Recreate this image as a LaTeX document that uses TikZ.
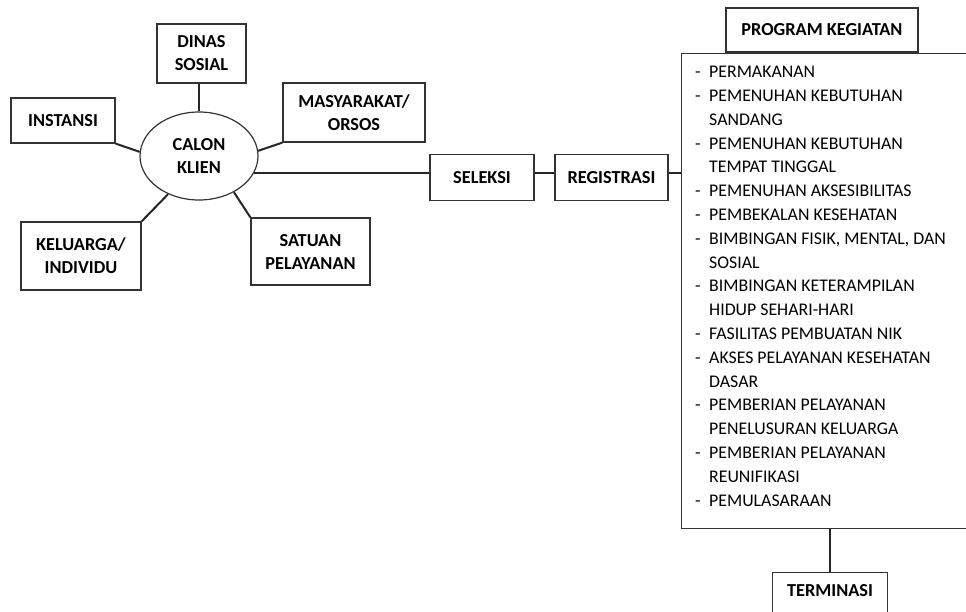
\documentclass[tikz,border=0pt]{standalone}
\usepackage{fontspec}
\setmainfont{Carlito}
\usepackage{tikz}
\usetikzlibrary{shapes.geometric}
\tikzset{
  kotak/.style={
    draw=black!80, line width=1.2pt, rectangle, align=center,
    inner sep=0pt, font=\fontsize{18.3}{23}\selectfont\bfseries}}
\tikzset{
  hub/.style={
    draw=black!80, line width=1.2pt, ellipse, align=center,
    inner sep=0pt, font=\fontsize{18.3}{23}\selectfont\bfseries}}
\tikzset{garis/.style={draw=black!85, line width=2pt}}
\newcommand{\butir}[1]{\makebox[14pt][l]{-}#1}
\newcommand{\lanjut}[1]{\hspace*{14pt}#1}

\begin{document}
\begin{tikzpicture}[x=1pt,y=-1pt]
    \clip (0,0) rectangle (966,612);
    % sumber calon klien
    \node[hub,minimum width=118pt,minimum height=88pt] (klien) at (199,156) {CALON\\KLIEN};
    \node[kotak,minimum width=89pt,minimum height=59pt] (dinas) at (201.5,53.5) {DINAS\\SOSIAL};
    \node[kotak,minimum width=104pt,minimum height=45pt] (instansi) at (63,120.5) {INSTANSI};
    \node[kotak,minimum width=142pt,minimum height=59pt] (masyarakat) at (354,112.5) {MASYARAKAT/\\ORSOS};
    \node[kotak,minimum width=120pt,minimum height=68pt] (keluarga) at (81,256) {KELUARGA/\\INDIVIDU};
    \node[kotak,minimum width=119pt,minimum height=67pt] (satuan) at (310.5,251.5) {SATUAN\\PELAYANAN};
    \draw[garis] (klien.north) -- (klien.north |- dinas.south);
    \draw[garis] (klien.176) -- (instansi.south east);
    \draw[garis] (klien.5) -- (masyarakat.south west);
    \draw[garis] (klien.231.5) -- (keluarga.north east);
    \draw[garis] (klien.-46.5) -- (satuan.north west);
    % alur
    \node[kotak,minimum width=104pt,minimum height=46pt] (seleksi) at (482,177.5) {SELEKSI};
    \node[kotak,minimum width=113pt,minimum height=46pt] (registrasi) at (611.5,177.5) {REGISTRASI};
    \node[kotak,anchor=north west,minimum width=330pt,minimum height=475pt] (kegiatan) at (681,53) {};
    \node[kotak,minimum width=192pt,minimum height=44pt] (program) at (822,30) {PROGRAM KEGIATAN};
    \node[anchor=north west,align=left,inner sep=0pt,font=\fontsize{17.8}{23.8}\selectfont] (daftar) at (695,66) {%
      \butir{PERMAKANAN}\\
      \butir{PEMENUHAN KEBUTUHAN}\\
      \lanjut{SANDANG}\\
      \butir{PEMENUHAN KEBUTUHAN}\\
      \lanjut{TEMPAT TINGGAL}\\
      \butir{PEMENUHAN AKSESIBILITAS}\\
      \butir{PEMBEKALAN KESEHATAN}\\
      \butir{BIMBINGAN FISIK, MENTAL, DAN}\\
      \lanjut{SOSIAL}\\
      \butir{BIMBINGAN KETERAMPILAN}\\
      \lanjut{HIDUP SEHARI-HARI}\\
      \butir{FASILITAS PEMBUATAN NIK}\\
      \butir{AKSES PELAYANAN KESEHATAN}\\
      \lanjut{DASAR}\\
      \butir{PEMBERIAN PELAYANAN}\\
      \lanjut{PENELUSURAN KELUARGA}\\
      \butir{PEMBERIAN PELAYANAN}\\
      \lanjut{REUNIFIKASI}\\
      \butir{PEMULASARAAN}};
    \node[kotak,anchor=north,minimum width=115pt,text depth=22pt,inner ysep=12pt] (terminasi) at (830,572) {TERMINASI};
    \draw[garis] (klien.-17.5) -- (seleksi.west |- klien.-17.5);
    \draw[garis] (seleksi.east |- klien.-17.5) -- (registrasi.west |- klien.-17.5);
    \draw[garis] (registrasi.east |- klien.-17.5) -- (kegiatan.west |- klien.-17.5);
    \draw[garis] (kegiatan.south -| terminasi.north) -- (terminasi.north);
\end{tikzpicture}
\end{document}
